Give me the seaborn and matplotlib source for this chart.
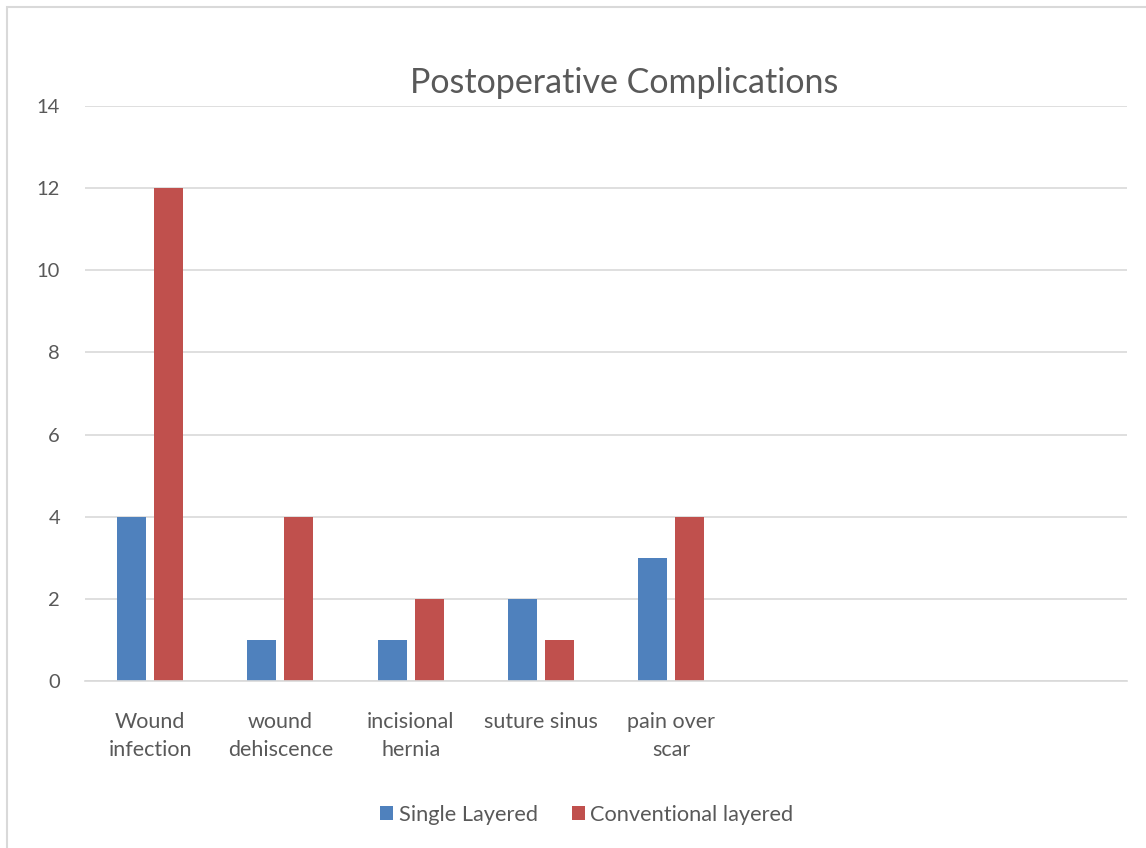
import pandas as pd
import matplotlib
matplotlib.use("Agg")
import matplotlib.pyplot as plt
import seaborn as sns
from matplotlib.patches import Rectangle

# data
categories = ["Wound\ninfection", "wound\ndehiscence", "incisional\nhernia",
              "suture sinus", "pain over\nscar"]
single_layered = [4, 1, 1, 2, 3]
conventional_layered = [12, 4, 2, 1, 4]
series_names = ["Single Layered", "Conventional layered"]

df = pd.DataFrame({
    "category": categories * 2,
    "value": single_layered + conventional_layered,
    "series": [series_names[0]] * len(categories) + [series_names[1]] * len(categories),
})

sns.set_theme(style="white")
plt.rcParams['font.family'] = ['Lato', 'DejaVu Sans']
TEXT = "#595959"
GRID = "#d9d9d9"

fig = plt.figure(figsize=(11.46, 8.48), dpi=100)
ax = fig.add_axes([0.0742, 0.197, 0.9092, 0.678])

sns.barplot(data=df, x="category", y="value", hue="series", order=categories,
            palette=["#4f81bd", "#c0504d"], saturation=1, width=0.57, gap=0.22,
            linewidth=0, ax=ax, legend=True)

# excel leaves room for 8 category slots
ax.set_xlim(-0.5, 7.5)
ax.set_ylim(0, 14)
ax.set_yticks(range(0, 15, 2))
ax.yaxis.grid(True, color=GRID, linewidth=1.2)
ax.set_axisbelow(True)
for s in ["top", "right", "left"]:
    ax.spines[s].set_visible(False)
ax.spines["bottom"].set_color(GRID)
ax.spines["bottom"].set_linewidth(1.2)
ax.tick_params(axis="y", length=0, pad=18, labelsize=14.5, labelcolor=TEXT)
ax.tick_params(axis="x", length=0, pad=22.5, labelsize=15.5, labelcolor=TEXT)
for lbl in ax.get_xticklabels():
    lbl.set_linespacing(1.5)
ax.set_xlabel("")
ax.set_ylabel("")

fig.text(0.545, 0.902, "Postoperative Complications", ha="center", va="center",
         fontsize=24.5, color=TEXT)

leg = ax.legend(loc="center", bbox_to_anchor=(0.512, 0.039), bbox_transform=fig.transFigure,
                ncol=2, frameon=False, fontsize=15.7, handlelength=0.6, handleheight=0.6,
                handletextpad=0.25, columnspacing=1.55)
for t in leg.get_texts():
    t.set_color(TEXT)

# chart area border
fig.patches.append(Rectangle((7 / 1146, -0.05), 1.1, 0.05 + 1 - 7 / 848,
                             transform=fig.transFigure, fill=False,
                             edgecolor=GRID, linewidth=1.5))

fig.savefig("out.png", dpi=100)
